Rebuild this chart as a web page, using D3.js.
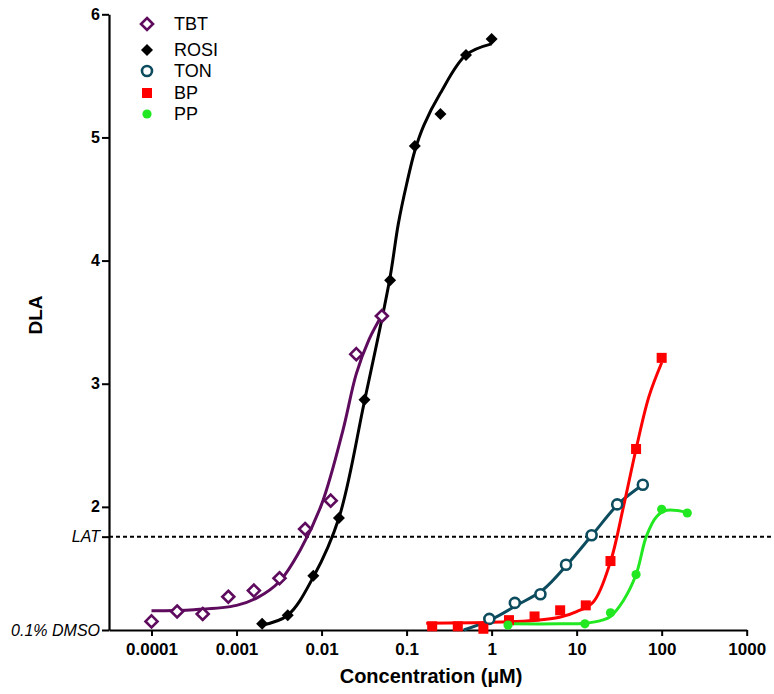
<!DOCTYPE html>
<html>
<head>
<meta charset="utf-8">
<script src="https://cdn.jsdelivr.net/npm/d3@7"></script>
<style>
  html, body { margin: 0; padding: 0; background: #fff; }
  svg { display: block; font-family: Arial, "Liberation Sans", sans-serif; }
</style>
</head>
<body>
<svg id="chart" width="774" height="694"></svg>
<script>
// ---------- data ----------
const xTickValues = [0.0001, 0.001, 0.01, 0.1, 1, 10, 100, 1000];
const xTickLabels = ["0.0001", "0.001", "0.01", "0.1", "1", "10", "100", "1000"];
const yTickValues = [2, 3, 4, 5, 6];
const yTickLabels = ["2", "3", "4", "5", "6"];
const latValue = 1.758;
const dmsoValue = 1;

const seriesNames = ["TBT", "ROSI", "TON", "BP", "PP"];

// measured points
const tbtX = [0.0001, 0.0002, 0.0004, 0.0008, 0.0016, 0.0032, 0.0064, 0.0128, 0.0256, 0.0512];
const tbtY = [1.07, 1.15, 1.13, 1.27, 1.32, 1.42, 1.82, 2.05, 3.24, 3.55];
const rosiX = [0.002, 0.004, 0.008, 0.016, 0.032, 0.064, 0.125, 0.25, 0.5, 1];
const rosiY = [1.05, 1.12, 1.44, 1.91, 2.87, 3.84, 4.93, 5.19, 5.67, 5.80];
const tonX = [0.94, 1.875, 3.75, 7.5, 15, 30, 60];
const tonY = [1.09, 1.22, 1.29, 1.53, 1.77, 2.02, 2.18];
const bpX = [0.2, 0.4, 0.8, 1.6, 3.2, 6.4, 12.8, 25, 50, 100];
const bpY = [1.03, 1.03, 1.01, 1.08, 1.11, 1.16, 1.20, 1.56, 2.47, 3.21];
const ppX = [1.56, 12.5, 25, 50, 100, 200];
const ppY = [1.04, 1.05, 1.14, 1.45, 1.98, 1.95];

// fitted curves
const tbtFitX = [0.0001, 0.000316, 0.001, 0.00178, 0.00316, 0.00562, 0.01, 0.0178, 0.0256, 0.0362, 0.0516];
const tbtFitY = [1.157, 1.165, 1.20, 1.265, 1.39, 1.65, 2.02, 2.62, 3.08, 3.36, 3.56];
const rosiFitX = [0.002, 0.004, 0.008, 0.016, 0.032, 0.063, 0.08, 0.1, 0.126, 0.16, 0.25, 0.5, 1];
const rosiFitY = [1.04, 1.12, 1.43, 1.91, 2.86, 3.84, 4.30, 4.62, 4.90, 5.10, 5.36, 5.67, 5.76];
const tonFitX = [0.47, 1, 2, 4, 7.94, 15.8, 31.6, 60];
const tonFitY = [1.0, 1.087, 1.203, 1.325, 1.54, 1.785, 2.03, 2.18];
const bpFitX = [0.17, 1, 3.16, 6.3, 10, 15.8, 25, 35.5, 50, 70.8, 100];
const bpFitY = [1.055, 1.062, 1.078, 1.103, 1.149, 1.23, 1.555, 2.0, 2.47, 2.895, 3.17];
const ppFitX = [1.55, 6.3, 12.6, 20, 25, 35.5, 50, 66, 87, 115, 200];
const ppFitY = [1.05, 1.05, 1.055, 1.08, 1.11, 1.24, 1.45, 1.76, 1.92, 1.972, 1.955];

const seriesColors = ["#5e0b5e", "#000000", "#0d4c5e", "#ff0000", "#22e822"];

// ---------- layout ----------
const svg = d3.select("#chart");
const x = d3.scaleLog().domain([Math.pow(10, -4.5), 1000]).range([109, 746.7]);
const y = d3.scaleLinear().domain([1, 6]).range([630, 14.3]);

const zip = (xs, ys) => xs.map((v, i) => [v, ys[i]]);
const series = [
  { name: "TBT", pts: zip(tbtX, tbtY), fit: zip(tbtFitX, tbtFitY), shape: "diamondOpen" },
  { name: "ROSI", pts: zip(rosiX, rosiY), fit: zip(rosiFitX, rosiFitY), shape: "diamond" },
  { name: "TON", pts: zip(tonX, tonY), fit: zip(tonFitX, tonFitY), shape: "circleOpen" },
  { name: "BP", pts: zip(bpX, bpY), fit: zip(bpFitX, bpFitY), shape: "square" },
  { name: "PP", pts: zip(ppX, ppY), fit: zip(ppFitX, ppFitY), shape: "circle" }
];
series.forEach((s, i) => s.color = seriesColors[i]);

// LAT dashed line
svg.append("line")
  .attr("x1", x.range()[0]).attr("x2", 774)
  .attr("y1", y(latValue)).attr("y2", y(latValue))
  .attr("stroke", "#000").attr("stroke-width", 2).attr("stroke-dasharray", "4,3");

// axes
const xAxis = d3.axisBottom(x).tickValues(xTickValues)
  .tickFormat((d, i) => xTickLabels[i]).tickSize(6).tickSizeOuter(0);
const gx = svg.append("g").attr("transform", `translate(0,${y(dmsoValue)})`).call(xAxis);
gx.select(".domain").attr("stroke-width", 2.2);
gx.selectAll(".tick line").attr("stroke-width", 2);
gx.selectAll(".tick text").attr("font-size", 17).attr("font-weight", "bold")
  .attr("font-family", "Arial, 'Liberation Sans', sans-serif").attr("fill", "#000").attr("dy", "0.95em");

const yVals = yTickValues.concat([latValue, dmsoValue]);
const yAxis = d3.axisLeft(y).tickValues(yVals)
  .tickFormat(d => {
    if (d === latValue) return "LAT";
    if (d === dmsoValue) return "0.1% DMSO";
    return yTickLabels[yTickValues.indexOf(d)];
  }).tickSize(7).tickSizeOuter(0).tickPadding(2);
const gy = svg.append("g").attr("transform", `translate(${x.range()[0]},0)`).call(yAxis);
gy.select(".domain").attr("stroke-width", 2.2);
gy.selectAll(".tick line").attr("stroke-width", 2);
gy.selectAll(".tick text").attr("fill", "#000")
  .attr("font-family", "Arial, 'Liberation Sans', sans-serif")
  .each(function (d) {
    const t = d3.select(this);
    if (d === latValue || d === dmsoValue) {
      t.attr("font-size", 16).attr("font-style", "italic").attr("font-weight", "normal");
    } else {
      t.attr("font-size", 16).attr("font-weight", "bold");
    }
  });

// axis titles
svg.append("text").attr("x", 431).attr("y", 683).attr("text-anchor", "middle")
  .attr("font-size", 20).attr("font-weight", "bold").text("Concentration (\u00B5M)");
svg.append("text").attr("transform", "translate(42,315) rotate(-90)").attr("text-anchor", "middle")
  .attr("font-size", 19).attr("font-weight", "bold").text("DLA");

// curves
const line = d3.line().x(d => x(d[0])).y(d => y(d[1])).curve(d3.curveCatmullRom.alpha(0.5));
series.forEach(s => {
  svg.append("path").datum(s.fit).attr("d", line)
    .attr("fill", "none").attr("stroke", s.color).attr("stroke-width", 3);
});

// markers
function drawMarker(g, shape, color, cx, cy) {
  if (shape === "diamondOpen") {
    g.append("path").attr("d", `M${cx},${cy - 6}L${cx + 6},${cy}L${cx},${cy + 6}L${cx - 6},${cy}Z`)
      .attr("fill", "#fff").attr("stroke", color).attr("stroke-width", 2.6);
  } else if (shape === "diamond") {
    g.append("path").attr("d", `M${cx},${cy - 6}L${cx + 6},${cy}L${cx},${cy + 6}L${cx - 6},${cy}Z`)
      .attr("fill", color);
  } else if (shape === "circleOpen") {
    g.append("circle").attr("cx", cx).attr("cy", cy).attr("r", 5)
      .attr("fill", "#fff").attr("stroke", color).attr("stroke-width", 2.6);
  } else if (shape === "square") {
    g.append("rect").attr("x", cx - 5).attr("y", cy - 5).attr("width", 10).attr("height", 10)
      .attr("fill", color);
  } else if (shape === "circle") {
    g.append("circle").attr("cx", cx).attr("cy", cy).attr("r", 4.6).attr("fill", color);
  }
}
series.forEach(s => {
  const g = svg.append("g");
  s.pts.forEach(p => drawMarker(g, s.shape, s.color, x(p[0]), y(p[1])));
});

// legend
const legendY = [24, 50, 71, 93, 114];
series.forEach((s, i) => {
  const g = svg.append("g");
  drawMarker(g, s.shape, s.color, 147, legendY[i]);
  g.append("text").attr("x", 174).attr("y", legendY[i]).attr("dy", "0.36em")
    .attr("font-size", 18).attr("fill", "#000").text(s.name);
});
</script>
</body>
</html>
